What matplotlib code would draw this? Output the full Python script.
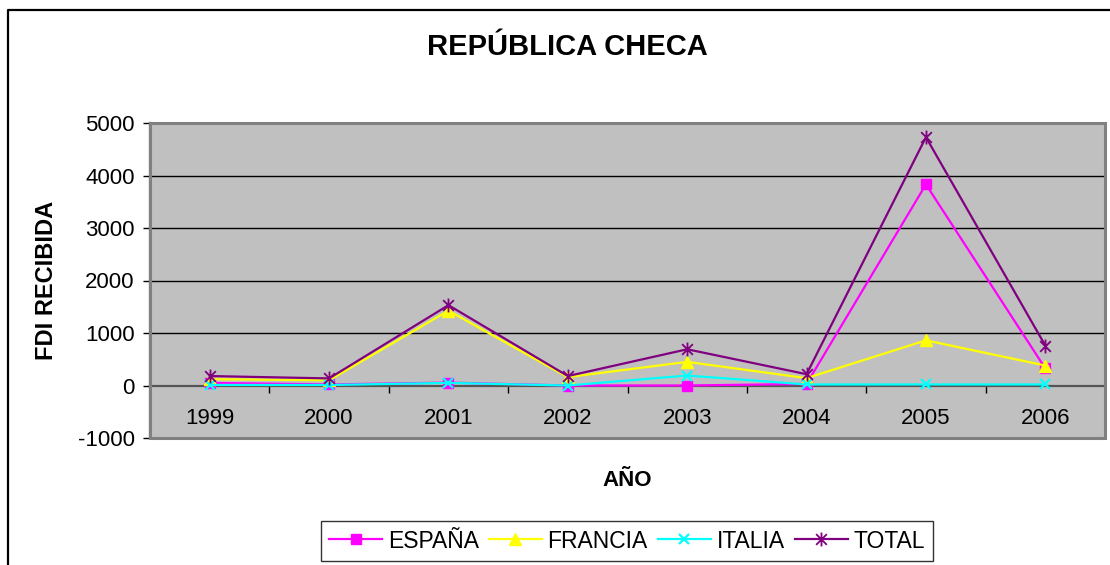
import numpy as np
import matplotlib
matplotlib.use("Agg")
import matplotlib.pyplot as plt
from matplotlib.path import Path
from matplotlib.lines import Line2D
from matplotlib.patches import Rectangle

plt.rcParams['font.family'] = ['Liberation Sans', 'DejaVu Sans']
plt.rcParams['axes.unicode_minus'] = False

# FDI recibida por la República Checa, por país de origen
years = ['1999', '2000', '2001', '2002', '2003', '2004', '2005', '2006']
espana = [50, 20, 55, 0, 0, 30, 3830, 325]
francia = [120, 100, 1425, 160, 450, 140, 860, 380]
italia = [10, 10, 50, 0, 190, 20, 20, 20]
total = [180, 135, 1530, 180, 690, 215, 4730, 760]

# asterisco: aspa + barra vertical
star = Path([(-1, -1), (1, 1), (-1, 1), (1, -1), (0, -1.3), (0, 1.3)],
            [Path.MOVETO, Path.LINETO, Path.MOVETO, Path.LINETO, Path.MOVETO, Path.LINETO])

fig = plt.figure(figsize=(11.1, 5.65), dpi=100)
W, H = 1110, 565
ax = fig.add_axes([150 / W, 1 - 438 / H, 955 / W, 315 / H])
ax.set_facecolor('#C0C0C0')

x = np.arange(len(years))
lw = 1.6
ax.plot(x, espana, color='#FF00FF', lw=lw, marker='s', ms=7, label='ESPAÑA', zorder=3)
ax.plot(x, francia, color='#FFFF00', lw=lw, marker='^', ms=8, label='FRANCIA', zorder=4)
ax.plot(x, italia, color='#00FFFF', lw=lw, marker='x', ms=7, mew=1.6, label='ITALIA', zorder=5)
ax.plot(x, total, color='#800080', lw=lw, marker=star, ms=10, mew=1.3, label='TOTAL', zorder=6)

ax.set_xlim(-0.5, len(years) - 0.5)
ax.set_ylim(-1000, 5000)
ax.set_yticks(np.arange(-1000, 5001, 1000))
for v in range(1000, 5001, 1000):
    ax.axhline(v, color='#000000', lw=1.0, zorder=1)

# eje X cruzando en 0, marcas entre categorías
for s in ['top', 'right']:
    ax.spines[s].set_visible(False)
ax.spines['bottom'].set_position(('data', 0))
ax.spines['bottom'].set_color('#555555')
ax.spines['bottom'].set_linewidth(1.6)
ax.spines['left'].set_color('#444444')
ax.spines['left'].set_linewidth(1.6)
ax.set_xticks(np.arange(-0.5, len(years), 1.0))
ax.set_xticklabels([])
ax.set_xticks(x, minor=True)
ax.set_xticklabels(years, minor=True)
ax.tick_params(axis='x', which='major', direction='out', length=5, width=1, color='#000000')
ax.tick_params(axis='x', which='minor', length=0, pad=16, labelsize=16)
ax.tick_params(axis='y', direction='out', length=5, width=1, labelsize=16, pad=6)
ax.add_patch(Rectangle((0, 0), 1, 1, transform=ax.transAxes, fill=False,
                       edgecolor='#808080', lw=2.2, clip_on=False, zorder=7))

fig.text(567 / W, 1 - 47 / H, 'REPÚBLICA CHECA', ha='center', va='center',
         fontsize=21, fontweight='bold')
fig.text(47 / W, 1 - 280 / H, 'FDI RECIBIDA', ha='center', va='center',
         rotation=90, fontsize=17, fontweight='bold')
fig.text(627 / W, 1 - 480 / H, 'AÑO', ha='center', va='center',
         fontsize=16, fontweight='bold')

leg = fig.legend(loc='center', bbox_to_anchor=(627 / W, 1 - 541 / H), ncol=4,
                 fontsize=16.5, frameon=True, fancybox=False, edgecolor='#000000',
                 handlelength=2.3, handletextpad=0.25, columnspacing=0.45,
                 borderpad=0.35)
leg.get_frame().set_linewidth(1.0)

# marco exterior del gráfico
fig.add_artist(Line2D([8 / W, 8 / W, 1], [0, 1 - 10 / H, 1 - 10 / H],
                      color='#000000', lw=1.6, transform=fig.transFigure))

fig.savefig('out.png', dpi=100)
